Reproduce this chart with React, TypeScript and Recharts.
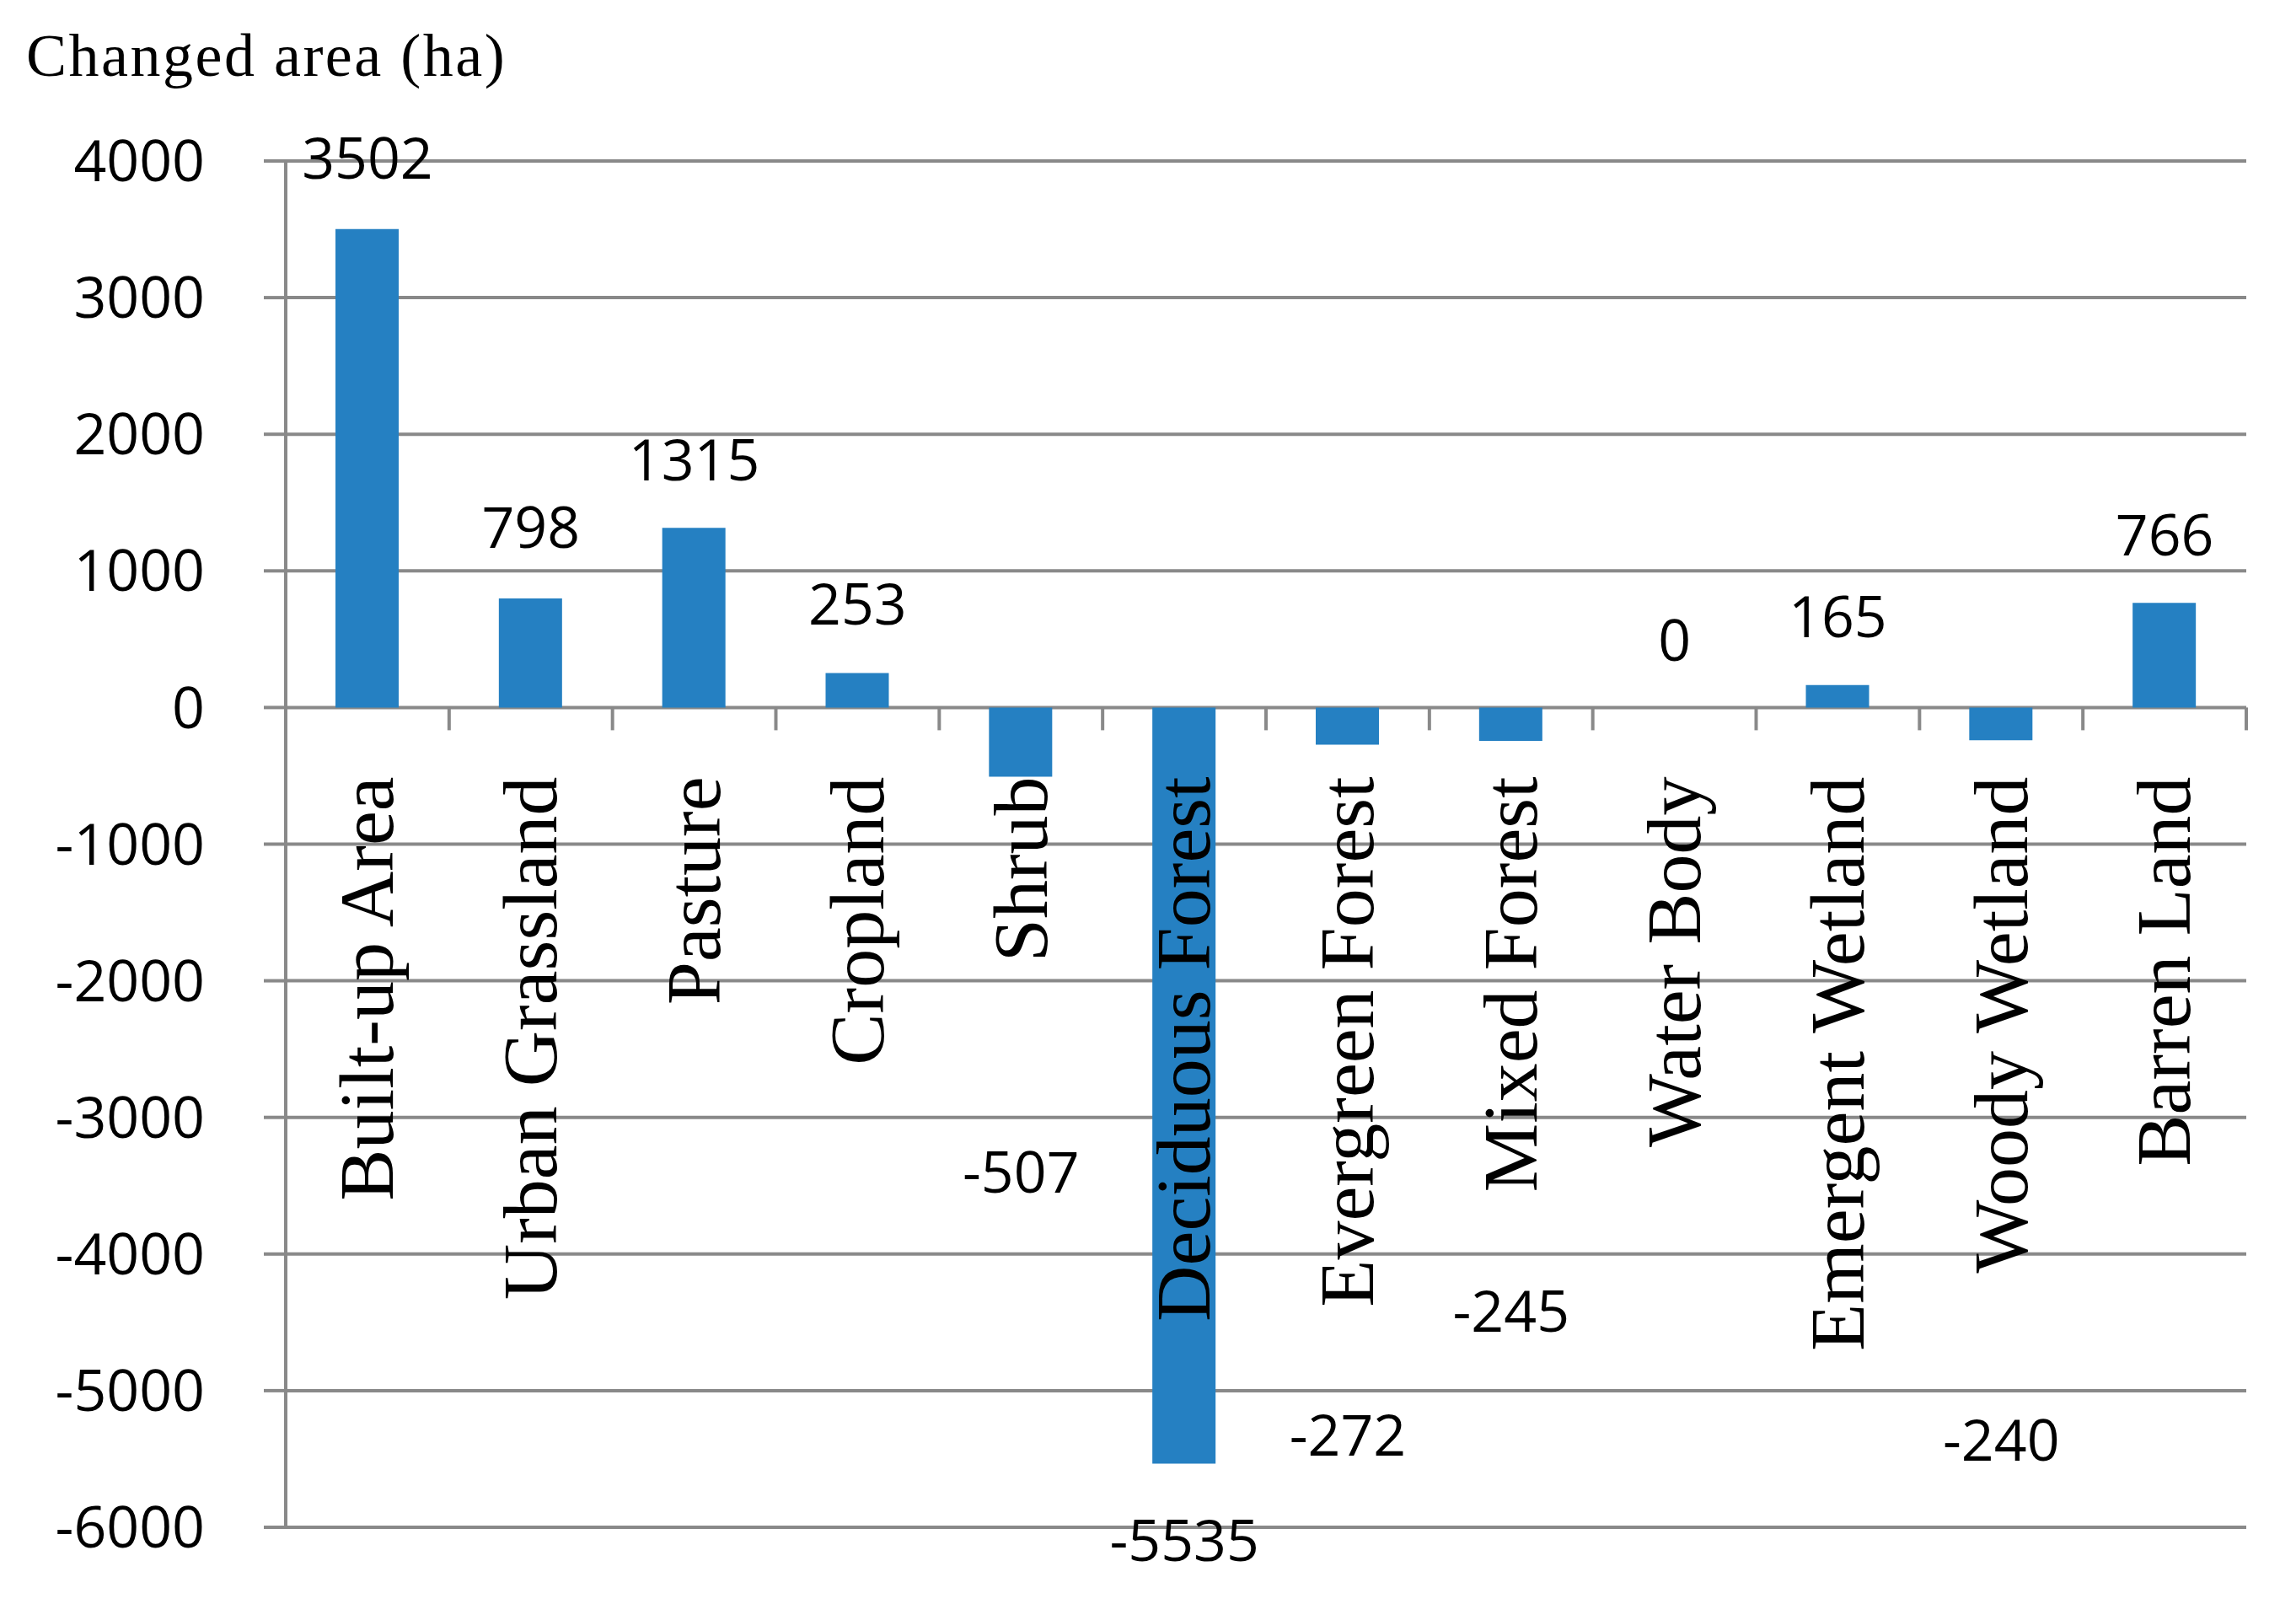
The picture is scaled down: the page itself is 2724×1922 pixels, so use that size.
import React from 'react'
import {
  ComposedChart, Bar, XAxis, YAxis, CartesianGrid, ReferenceDot,
} from 'recharts'

// land cover classes and their change in area (ha)
const categories = [
  'Built-up Area', 'Urban Grassland', 'Pasture', 'Cropland', 'Shrub', 'Deciduous Forest',
  'Evergreen Forest', 'Mixed Forest', 'Water Body', 'Emergent Wetland', 'Woody Wetland', 'Barren Land',
]
const changedArea = [3502, 798, 1315, 253, -507, -5535, -272, -245, 0, 165, -240, 766]
// where each value label sits, in axis units (placed by hand in the original)
const labelAt = [4019, 1318, 1811, 761, -3398, -6098, -5327, -4416, 493, 665, -5359, 1265]
const yTicks = [-6000, -5000, -4000, -3000, -2000, -1000, 0, 1000, 2000, 3000, 4000]
const yDomain: [number, number] = [-6000, 4000]

const W = 2724
const H = 1922
const MARGIN = { top: 191, right: 59, bottom: 0, left: 0 }
const Y_AXIS_W = 339
const X_AXIS_H = 110
const PLOT_W = W - MARGIN.left - MARGIN.right - Y_AXIS_W
const PLOT_H = H - MARGIN.top - MARGIN.bottom - X_AXIS_H
const CAT_W = PLOT_W / categories.length
const ZERO_Y = MARGIN.top + PLOT_H * (yDomain[1] / (yDomain[1] - yDomain[0]))

const GRID = '#898989'
const BAR = '#2580C2'
const SANS = '"Open Sans", sans-serif'
const SERIF = '"Liberation Serif", "Times New Roman", serif'

const data = categories.map((name, i) => ({ name, value: changedArea[i] }))

function CategoryTick(props: any) {
  const { x, payload } = props
  const edge = x + CAT_W / 2
  return (
    <g>
      <line x1={edge} y1={ZERO_Y} x2={edge} y2={ZERO_Y + 27} stroke={GRID} strokeWidth={4} />
      <text
        transform={`translate(${x},${ZERO_Y + 82}) rotate(-90)`}
        textAnchor="end"
        dy="0.33em"
        fontFamily={SERIF}
        fontSize={92}
        fill="#000"
      >
        {payload.value}
      </text>
    </g>
  )
}

export default function App() {
  return (
    <div style={{ position: 'absolute', left: 0, top: 0, width: W, height: H, background: '#fff' }}>
      <div
        style={{
          position: 'absolute', left: 31, top: 30, fontFamily: SERIF, fontSize: 72,
          lineHeight: 1, letterSpacing: 2.5, color: '#000', whiteSpace: 'nowrap',
        }}
      >
        Changed area (ha)
      </div>
      <ComposedChart width={W} height={H} data={data} margin={MARGIN}>
        <CartesianGrid vertical={false} stroke={GRID} strokeWidth={4} />
        <XAxis
          dataKey="name"
          interval={0}
          axisLine={false}
          tickLine={false}
          height={X_AXIS_H}
          tick={<CategoryTick />}
        />
        <YAxis
          domain={yDomain}
          ticks={yTicks}
          allowDataOverflow
          width={Y_AXIS_W}
          axisLine={{ stroke: GRID, strokeWidth: 4 }}
          tickLine={{ stroke: GRID, strokeWidth: 4 }}
          tickSize={26}
          tickMargin={70}
          tick={{ fill: '#000', fontFamily: SANS, fontSize: 68 }}
        />
        <Bar dataKey="value" fill={BAR} barSize={75} isAnimationActive={false} />
        {categories.map((c, i) => (
          <ReferenceDot
            key={c}
            x={c}
            y={labelAt[i]}
            r={0}
            ifOverflow="visible"
            shape={(p: any) => (
              <text
                x={p.cx}
                y={p.cy}
                dy="0.36em"
                textAnchor="middle"
                fontFamily={SANS}
                fontSize={68}
                fill="#000"
              >
                {changedArea[i]}
              </text>
            )}
          />
        ))}
      </ComposedChart>
    </div>
  )
}
